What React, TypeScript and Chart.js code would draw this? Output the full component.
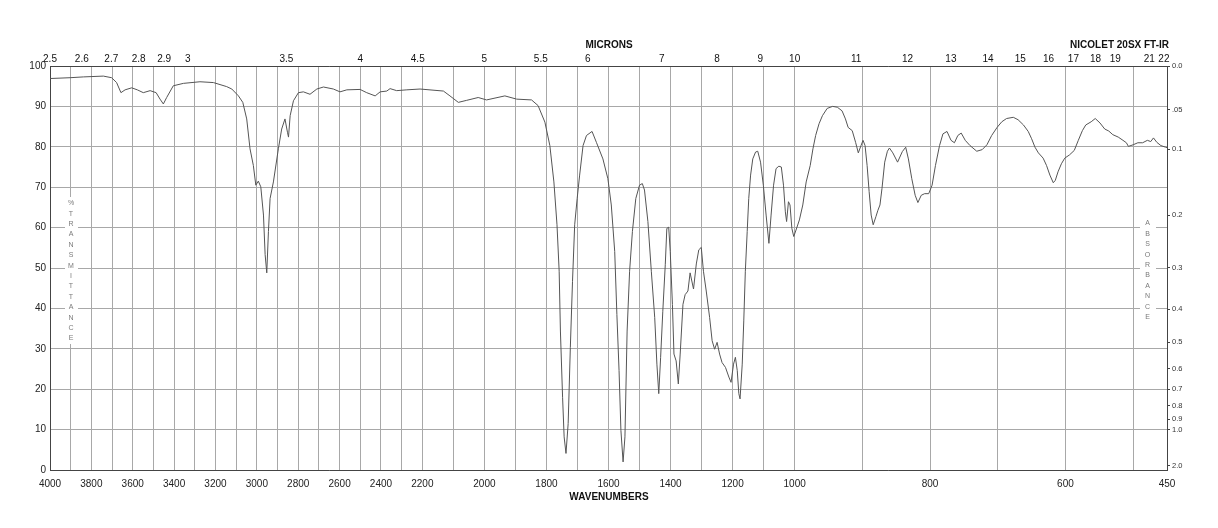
import { useEffect, useRef } from 'react';
import { Chart, registerables, LinearScale } from 'chart.js';

// ---- data ----
const wavenumbers = [
  4000, 3903, 3839, 3742, 3702, 3678, 3657, 3637, 3605, 3578, 3549, 3516, 3487, 3468, 3452, 3436, 3404, 3355, 3275, 3210,
  3146, 3121, 3089, 3068, 3049, 3033, 3017, 3005, 2993, 2981, 2968, 2960, 2952, 2944, 2936, 2920, 2896, 2880, 2864, 2852,
  2847, 2839, 2823, 2799, 2775, 2743, 2710, 2678, 2630, 2598, 2565, 2501, 2469, 2428, 2404, 2372, 2356, 2324, 2275, 2211,
  2132, 2111, 2084, 2057, 2020, 1993, 1934, 1896, 1848, 1827, 1805, 1789, 1776, 1766, 1759, 1755, 1748, 1743, 1737, 1730,
  1723, 1716, 1709, 1701, 1693, 1682, 1671, 1653, 1639, 1618, 1602, 1591, 1580, 1573, 1566, 1560, 1553, 1547, 1540, 1532,
  1523, 1512, 1500, 1491, 1484, 1473, 1462, 1451, 1444, 1438, 1432, 1425, 1417, 1412, 1406, 1401, 1394, 1389, 1382, 1375,
  1369, 1360, 1353, 1344, 1337, 1326, 1317, 1309, 1301, 1294, 1285, 1274, 1266, 1258, 1250, 1242, 1234, 1223, 1212, 1205,
  1197, 1191, 1185, 1180, 1176, 1169, 1164, 1159, 1153, 1148, 1142, 1135, 1126, 1119, 1110, 1101, 1092, 1083, 1076, 1068,
  1060, 1051, 1043, 1036, 1030, 1026, 1020, 1015, 1009, 1003, 998, 993, 988, 983, 977, 973, 969, 964, 959, 952,
  944, 937, 930, 925, 921, 915, 910, 906, 902, 899, 896, 893, 890, 887, 884, 880, 877, 874, 871, 867,
  863, 860, 855, 848, 841, 836, 832, 827, 822, 818, 813, 808, 802, 797, 792, 786, 781, 775, 769, 764,
  759, 754, 748, 741, 731, 723, 716, 709, 701, 694, 687, 677, 670, 662, 655, 650, 645, 640, 633, 628,
  623, 618, 615, 611, 606, 601, 594, 587, 581, 575, 570, 562, 556, 549, 542, 536, 530, 522, 515, 510,
  507, 500, 493, 486, 479, 474, 470, 465, 459, 452, 450,
];
const transmittance = [
  96.9, 97.1, 97.3, 97.5, 97.1, 95.9, 93.4, 94.1, 94.6, 94.1, 93.4, 93.9, 93.4, 91.8, 90.6, 92.2, 95.1, 95.7, 96.1, 95.9,
  94.9, 94.3, 92.6, 91.0, 86.9, 79.5, 75.4, 70.5, 71.5, 70.1, 63.1, 53.3, 48.8, 59.0, 67.2, 71.3, 79.5, 84.4, 86.9, 83.6,
  82.4, 87.7, 91.4, 93.4, 93.6, 93.0, 94.3, 94.8, 94.3, 93.6, 94.1, 94.2, 93.4, 92.6, 93.6, 93.8, 94.4, 93.9, 94.1, 94.3,
  93.8, 92.6, 91.0, 91.5, 92.2, 91.6, 92.6, 91.8, 91.6, 90.2, 86.1, 80.3, 71.3, 60.7, 49.2, 34.4, 18.0, 8.2, 4.1, 11.5,
  30.3, 46.7, 60.7, 67.2, 73.0, 80.3, 82.8, 83.8, 81.1, 77.0, 72.1, 65.6, 54.1, 38.5, 24.6, 9.8, 2.0, 8.2, 34.4, 49.2,
  59.0, 67.2, 70.5, 70.9, 69.3, 61.5, 49.2, 37.7, 26.2, 18.9, 27.9, 39.3, 50.8, 59.8, 60.1, 54.1, 41.0, 28.7, 27.0, 21.3,
  28.7, 41.0, 43.4, 44.3, 48.8, 44.8, 51.0, 54.5, 55.1, 49.2, 44.3, 37.7, 32.0, 29.9, 31.6, 28.7, 26.6, 25.4, 23.0, 21.7,
  26.2, 27.9, 24.6, 18.9, 17.6, 26.2, 36.9, 49.2, 59.0, 67.2, 73.0, 77.0, 78.7, 78.9, 76.2, 70.5, 63.1, 56.1, 63.1, 70.5,
  74.6, 75.2, 75.0, 70.5, 63.9, 61.5, 66.4, 65.6, 59.8, 57.8, 59.4, 61.9, 65.6, 71.3, 75.4, 79.5, 82.8, 85.7, 87.7, 89.5,
  90.0, 89.8, 88.9, 86.9, 84.8, 84.0, 81.1, 78.5, 80.3, 81.6, 80.3, 75.4, 68.9, 63.1, 60.7, 62.7, 64.3, 65.6, 69.7, 76.2,
  78.9, 79.7, 78.5, 76.2, 78.8, 79.9, 77.0, 72.1, 68.0, 66.2, 68.0, 68.4, 68.4, 70.5, 75.4, 80.3, 83.2, 83.8, 81.6, 81.0,
  82.8, 83.4, 81.6, 80.3, 78.9, 79.3, 80.5, 82.8, 84.8, 86.2, 87.0, 87.3, 86.7, 85.4, 83.8, 82.0, 79.9, 78.5, 77.2, 75.4,
  73.0, 71.1, 71.7, 73.8, 75.8, 77.2, 78.0, 79.1, 81.6, 84.0, 85.4, 86.2, 87.0, 85.9, 84.4, 83.9, 83.0, 82.4, 81.6, 81.0,
  80.1, 80.5, 81.0, 81.0, 81.6, 81.3, 82.2, 81.1, 80.3, 79.9, 79.8,
];

// ---- axis ticks ----
const wavenumberTicks = [
  4000, 3900, 3800, 3700, 3600, 3500, 3400, 3300, 3200, 3100, 3000, 2900, 2800, 2700, 2600, 2500, 2400, 2300, 2200,
  2100, 2000, 1900, 1800, 1700, 1600, 1500, 1400, 1300, 1200, 1100, 1000, 900, 800, 700, 600, 500, 450,
];
const wavenumberLabels = [
  4000, 3800, 3600, 3400, 3200, 3000, 2800, 2600, 2400, 2200, 2000, 1800, 1600, 1400, 1200, 1000, 800, 600, 450,
];
const micronTicks = [2.5, 2.6, 2.7, 2.8, 2.9, 3, 3.5, 4, 4.5, 5, 5.5, 6, 7, 8, 9, 10, 11, 12, 13, 14, 15, 16, 17, 18, 19, 21, 22];
const absorbanceTicks = [0, 0.05, 0.1, 0.2, 0.3, 0.4, 0.5, 0.6, 0.7, 0.8, 0.9, 1.0, 2.0];
const absorbanceLabels = ['0.0', '.05', '0.1', '0.2', '0.3', '0.4', '0.5', '0.6', '0.7', '0.8', '0.9', '1.0', '2.0'];
const transmittanceTicksStep = 10;

// three equal-width segments: 4000-2200, 2200-1000, 1000-450
const segBreaks = [4000, 2200, 1000, 450];

function wnToDecimal(w: number): number {
  for (let i = 0; i < segBreaks.length - 1; i++) {
    const a = segBreaks[i];
    const b = segBreaks[i + 1];
    if (w >= b || i === segBreaks.length - 2) {
      return (i + (a - w) / (a - b)) / (segBreaks.length - 1);
    }
  }
  return 1;
}
function decimalToWn(d: number): number {
  const n = segBreaks.length - 1;
  const u = Math.max(0, Math.min(n - 1e-9, d * n));
  const i = Math.floor(u);
  const a = segBreaks[i];
  const b = segBreaks[i + 1];
  return a - (u - i) * (a - b);
}

class WavenumberScale extends LinearScale {
  static id = 'wavenumber';
  static defaults = LinearScale.defaults;
  getPixelForValue(value: number) {
    return this.getPixelForDecimal(wnToDecimal(value));
  }
  getValueForPixel(pixel: number) {
    return decimalToWn(this.getDecimalForPixel(pixel));
  }
}

Chart.register(...registerables, WavenumberScale);

const FONT = "'Liberation Sans', Arial, Helvetica, sans-serif";

const textPlugin = {
  id: 'irText',
  beforeDatasetsDraw(chart: any) {
    const ctx = chart.ctx;
    ctx.save();
    ctx.fillStyle = '#ffffff';
    ctx.fillRect(65, 197, 13, 147);
    ctx.fillRect(1140, 216, 16, 108);
    ctx.fillStyle = '#7a7a7a';
    ctx.font = `7px ${FONT}`;
    ctx.textAlign = 'center';
    ctx.textBaseline = 'middle';
    '%TRANSMITTANCE'.split('').forEach((c, i) => ctx.fillText(c, 71, 203.3 + i * 10.4));
    'ABSORBANCE'.split('').forEach((c, i) => ctx.fillText(c, 1147.5, 223.5 + i * 10.4));
    ctx.restore();
  },
  afterDraw(chart: any) {
    const ctx = chart.ctx;
    ctx.save();
    ctx.fillStyle = '#111';
    ctx.font = `bold 10px ${FONT}`;
    ctx.textBaseline = 'middle';
    ctx.textAlign = 'center';
    ctx.fillText('MICRONS', 609, 45);
    ctx.fillText('WAVENUMBERS', 609, 497);
    ctx.textAlign = 'right';
    ctx.fillText('NICOLET 20SX FT-IR', 1169, 45);
    ctx.restore();
  },
};

export default function App() {
  const ref = useRef<HTMLCanvasElement>(null);
  useEffect(() => {
    if (!ref.current) return;
    const points = wavenumbers.map((w, i) => ({ x: w, y: transmittance[i] }));
    const chart = new Chart(ref.current, {
      type: 'line',
      data: {
        datasets: [
          {
            data: points,
            borderColor: '#555555',
            borderWidth: 1,
            pointRadius: 0,
            tension: 0,
            fill: false,
            xAxisID: 'x',
            yAxisID: 'y',
          },
        ],
      },
      options: {
        animation: false,
        responsive: false,
        events: [],
        layout: { padding: 0 },
        plugins: { legend: { display: false }, tooltip: { enabled: false } },
        scales: {
          x: {
            type: 'wavenumber' as any,
            position: 'bottom',
            min: 450,
            max: 4000,
            afterBuildTicks: (s: any) => {
              s.ticks = wavenumberTicks.map((v) => ({ value: v }));
            },
            afterFit: (s: any) => {
              s.height = 58;
            },
            ticks: {
              autoSkip: false,
              maxRotation: 0,
              padding: 8,
              color: '#222',
              font: { family: FONT, size: 10 },
              callback: (v: any) => (wavenumberLabels.includes(Number(v)) ? String(v) : ''),
            },
            grid: { color: '#a8a8a8', lineWidth: 1, drawTicks: false },
            border: { display: true, color: '#444', width: 1 },
          },
          xTop: {
            type: 'wavenumber' as any,
            position: 'top',
            min: 450,
            max: 4000,
            afterBuildTicks: (s: any) => {
              s.ticks = micronTicks.map((m) => ({ value: 10000 / m }));
            },
            afterFit: (s: any) => {
              s.height = 66;
            },
            ticks: {
              autoSkip: false,
              maxRotation: 0,
              padding: 1,
              color: '#111',
              font: { family: FONT, size: 10 },
              callback: (_v: any, i: number) => String(micronTicks[i]),
            },
            grid: { drawOnChartArea: false, drawTicks: false, color: '#444' },
            border: { display: true, color: '#444', width: 1 },
          },
          y: {
            type: 'linear',
            position: 'left',
            min: 0,
            max: 100,
            afterFit: (s: any) => {
              s.width = 50;
            },
            ticks: {
              stepSize: transmittanceTicksStep,
              padding: 4,
              color: '#222',
              font: { family: FONT, size: 10 },
            },
            grid: { color: '#a8a8a8', lineWidth: 1, drawTicks: false },
            border: { display: true, color: '#444', width: 1 },
          },
          yA: {
            type: 'linear',
            position: 'right',
            min: 0,
            max: 100,
            afterBuildTicks: (s: any) => {
              s.ticks = absorbanceTicks.map((a) => ({ value: 100 * Math.pow(10, -a) }));
            },
            afterFit: (s: any) => {
              s.width = 51;
            },
            ticks: {
              autoSkip: false,
              padding: 2,
              color: '#333',
              font: { family: FONT, size: 7.5 },
              callback: (_v: any, i: number) => absorbanceLabels[i],
            },
            grid: { drawOnChartArea: false, drawTicks: true, tickLength: 3, color: '#444' },
            border: { display: true, color: '#444', width: 1 },
          },
        },
      },
      plugins: [textPlugin],
    });
    return () => chart.destroy();
  }, []);
  return (
    <div style={{ position: 'absolute', left: 0, top: 0, width: 1218, height: 528, background: '#fff' }}>
      <canvas ref={ref} width={1218} height={528} style={{ display: 'block' }} />
    </div>
  );
}
